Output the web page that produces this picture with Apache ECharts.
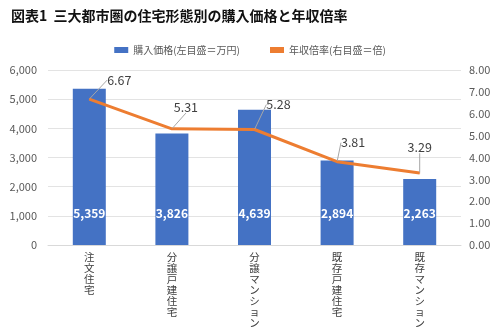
<!DOCTYPE html>
<html><head><meta charset="utf-8">
<script src="https://cdn.jsdelivr.net/npm/echarts@6/dist/echarts.min.js"></script>
<style>html,body{margin:0;padding:0;background:#fff}#c{width:500px;height:334px}</style>
</head><body><div id="c"></div>
<script>
const categories = ['注文住宅', '分譲戸建住宅', '分譲マンション', '既存戸建住宅', '既存マンション'];
const prices = [5359, 3826, 4639, 2894, 2263];
const ratios = [6.67, 5.31, 5.28, 3.81, 3.29];
const leftTicks = [0, 6000, 1000];
const rightTicks = [0, 8, 1];
const barName = '購入価格(左目盛＝万円)';
const lineName = '年収倍率(右目盛＝倍)';
const labelShift = [[30, -19], [14, -22], [24, -25], [16, -19], [0, -26]];

const chart = echarts.init(document.getElementById('c'), null, {renderer: 'canvas'});
const font = '"Noto Sans CJK JP", "Noto Sans", sans-serif';
chart.setOption({
  animation: false,
  textStyle: {fontFamily: font},
  title: {
    text: '図表1  三大都市圏の住宅形態別の購入価格と年収倍率',
    left: 6, top: 4,
    textStyle: {fontSize: 14, fontWeight: 'bold', color: '#111', fontFamily: font}
  },
  legend: {
    top: 40, left: 'center', itemGap: 30, itemWidth: 14, itemHeight: 6,
    textStyle: {fontSize: 10, color: '#595959', fontFamily: font},
    data: [{name: barName, icon: 'rect'}, {name: lineName, icon: 'rect', itemStyle: {color: '#ED7D31'}}]
  },
  grid: {left: 48, right: 39, top: 70, bottom: 89},
  xAxis: {
    type: 'category', data: categories,
    axisLine: {lineStyle: {color: '#d9d9d9'}},
    axisTick: {show: false},
    axisLabel: {
      color: '#404040', fontSize: 10.5, lineHeight: 11, interval: 0, margin: 7,
      formatter: v => v.split('').join('\n')
    }
  },
  yAxis: [{
    type: 'value', min: leftTicks[0], max: leftTicks[1], interval: leftTicks[2],
    axisLabel: {color: '#595959', fontSize: 11, margin: 11, formatter: v => v.toLocaleString('en-US')},
    splitLine: {lineStyle: {color: '#e3e3e3'}},
    axisLine: {show: false}, axisTick: {show: false}
  }, {
    type: 'value', min: rightTicks[0], max: rightTicks[1], interval: rightTicks[2],
    axisLabel: {color: '#595959', fontSize: 11, margin: 8, formatter: v => v.toFixed(2)},
    splitLine: {show: false},
    axisLine: {show: false}, axisTick: {show: false}
  }],
  series: [{
    name: barName, type: 'bar', data: prices, barWidth: 33,
    itemStyle: {color: '#4472C4'},
    label: {
      show: true, position: 'insideBottom', distance: 26,
      color: '#fff', fontWeight: 'bold', fontSize: 12,
      formatter: p => p.value.toLocaleString('en-US')
    }
  }, {
    name: lineName, type: 'line', yAxisIndex: 1, data: ratios,
    symbol: 'circle', symbolSize: 1, showSymbol: true,
    lineStyle: {color: '#ED7D31', width: 3},
    itemStyle: {color: '#ED7D31'},
    label: {
      show: true, position: 'inside', color: '#404040', fontSize: 12.5,
      formatter: p => p.value.toFixed(2)
    },
    labelLine: {show: true, lineStyle: {color: '#a6a6a6', width: 1}},
    labelLayout: p => ({dx: labelShift[p.dataIndex][0], dy: labelShift[p.dataIndex][1]}),
    z: 3
  }]
});
</script></body></html>
